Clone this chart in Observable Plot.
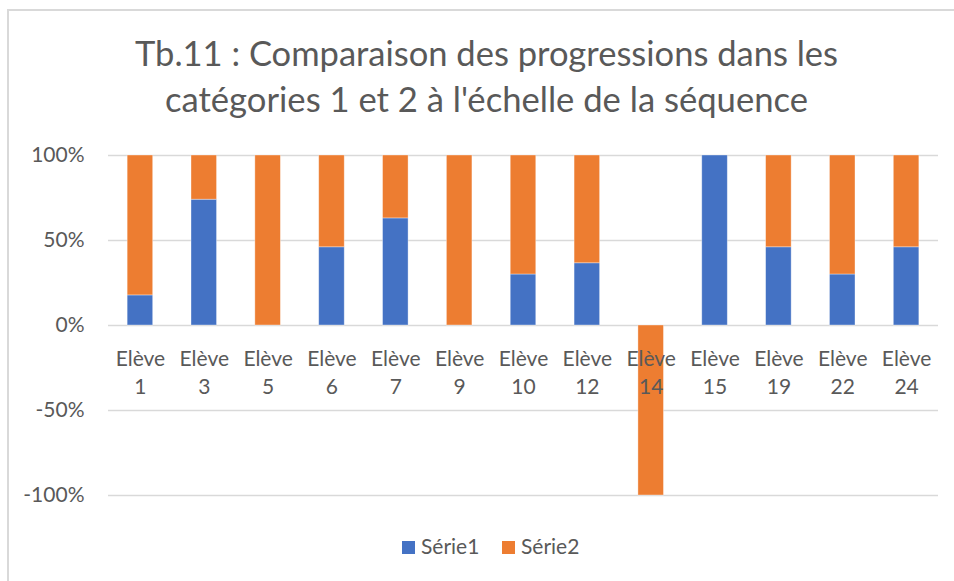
<!DOCTYPE html>
<html><head><meta charset="utf-8">
<script src="https://cdn.jsdelivr.net/npm/d3@7"></script>
<script src="https://cdn.jsdelivr.net/npm/@observablehq/plot@0.6"></script>
<style>
html,body{margin:0;padding:0;background:#fff;overflow:hidden;width:954px;height:581px}
#wrap{position:relative;width:954px;height:581px;font-family:Lato,sans-serif;color:#595959;overflow:hidden}
#frame{position:absolute;left:7px;top:9px;width:1000px;height:1000px;border:2px solid #d9d9d9;box-sizing:border-box}
#title{position:absolute;left:0;top:0}
#chart{position:absolute;left:0;top:130px}
#legend{position:absolute;left:0;top:522px}
</style></head><body>
<div id="wrap"><div id="frame"></div><svg id="title" width="954" height="130"></svg><div id="chart"></div><svg id="legend" width="954" height="50"></svg></div>
<script>
const titleLines = ["Tb.11 : Comparaison des progressions dans les", "catégories 1 et 2 à l'échelle de la séquence"];
const categories = ["Elève 1","Elève 3","Elève 5","Elève 6","Elève 7","Elève 9","Elève 10","Elève 12","Elève 14","Elève 15","Elève 19","Elève 22","Elève 24"];
const seriesNames = ["Série1","Série2"];
const serie1 = [0.177, 0.74, 0, 0.46, 0.63, 0, 0.30, 0.366, 0, 1, 0.46, 0.30, 0.46];
const serie2 = [0.823, 0.26, 1, 0.54, 0.37, 1, 0.70, 0.634, -1, 0, 0.54, 0.70, 0.54];
const colors = ["#4472C4","#ED7D31"];
const yTicks = [-1, -0.5, 0, 0.5, 1];

const data = [];
categories.forEach((c, i) => {
  data.push({cat: c, series: seriesNames[0], value: serie1[i]});
  data.push({cat: c, series: seriesNames[1], value: serie2[i]});
});

// Title
const tsvg = d3.select("#title");
const titleWidths = [703, 643];
const titleY = [66, 112];
titleLines.forEach((t, i) => {
  tsvg.append("text").attr("x", 486.5).attr("y", titleY[i])
    .attr("text-anchor", "middle").attr("fill", "#595959")
    .attr("font-family", "Lato, sans-serif").attr("font-size", 35)
    .attr("textLength", titleWidths[i]).attr("lengthAdjust", "spacingAndGlyphs")
    .text(t);
});

const chart = Plot.plot({
  width: 954, height: 390,
  marginLeft: 108, marginRight: 16, marginTop: 25, marginBottom: 25,
  x: {domain: categories, paddingInner: 0.6, paddingOuter: 0.3, round: false, axis: null},
  y: {domain: [-1, 1], axis: null},
  color: {domain: seriesNames, range: colors},
  style: {fontFamily: "Lato, sans-serif", fontSize: "21px", color: "#595959", background: "transparent"},
  marks: [
    Plot.ruleY(yTicks, {stroke: "#d9d9d9", strokeWidth: 1.6}),
    Plot.barY(data, Plot.stackY({x: "cat", y: "value", fill: "series", order: seriesNames,
      stroke: "white", strokeWidth: 0.8, strokeOpacity: 0.45})),
    Plot.axisY({ticks: yTicks, tickSize: 0, tickPadding: 24, fontSize: 21, label: null,
      tickFormat: d => Math.round(d * 100) + "%"}),
    Plot.text(categories, {x: d => d, y: d => 0, text: d => d.replace(" ", "\n"),
      lineAnchor: "top", dy: 20, lineHeight: 1.36, fontSize: 21, fill: "#595959"})
  ]
});
document.getElementById("chart").appendChild(chart);

// Legend
const lsvg = d3.select("#legend");
const legendX = [402, 502];
seriesNames.forEach((s, i) => {
  lsvg.append("rect").attr("x", legendX[i]).attr("y", 541 - 522).attr("width", 13).attr("height", 13).attr("fill", colors[i]);
  lsvg.append("text").attr("x", legendX[i] + 19).attr("y", 554 - 522)
    .attr("fill", "#595959").attr("font-family", "Lato, sans-serif").attr("font-size", 21).text(s);
});
</script>
</body></html>
